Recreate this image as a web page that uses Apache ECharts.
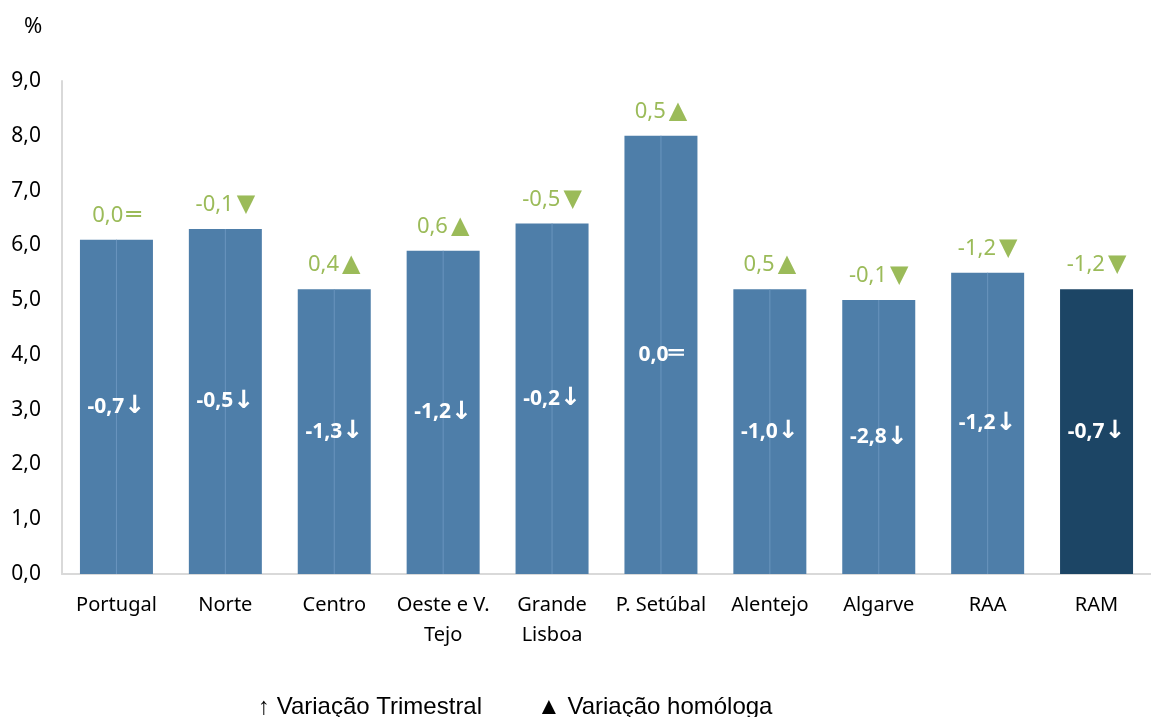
<!DOCTYPE html>
<html>
<head>
<meta charset="utf-8">
<script src="https://cdn.jsdelivr.net/npm/echarts@6/dist/echarts.min.js"></script>
<style>
  html, body { margin: 0; padding: 0; background: #fff; }
  #chart { width: 1151px; height: 717px; }
</style>
</head>
<body>
<div id="chart"></div>
<script>
// categorias (regiões)
var categories = ['Portugal', 'Norte', 'Centro', 'Oeste e V.\nTejo', 'Grande\nLisboa',
    'P. Setúbal', 'Alentejo', 'Algarve', 'RAA', 'RAM'];
// taxa (%)
var values = [6.1, 6.3, 5.2, 5.9, 6.4, 8.0, 5.2, 5.0, 5.5, 5.2];
// variação trimestral (p.p.)
var varTrimestral = [-0.7, -0.5, -1.3, -1.2, -0.2, 0.0, -1.0, -2.8, -1.2, -0.7];
// variação homóloga (p.p.)
var varHomologa = [0.0, -0.1, 0.4, 0.6, -0.5, 0.5, 0.5, -0.1, -1.2, -1.2];
var yTicks = [0, 1, 2, 3, 4, 5, 6, 7, 8, 9];

var FONT = 'Noto Sans';
var SYM_FONT = 'DejaVu Sans';
var BAR = '#4E7EA9';
var BAR_DARK = '#1C4565';
var GREEN = '#9BBB59';

function fmt(v) {
    return v.toFixed(1).replace('.', ',');
}

var chart = echarts.init(document.getElementById('chart'));

var barData = values.map(function (v, i) {
    return {
        value: v,
        itemStyle: { color: i === values.length - 1 ? BAR_DARK : BAR }
    };
});

var option = {
    animation: false,
    textStyle: { fontFamily: FONT },
    grid: { left: 62, top: 81, width: 1102, height: 493 },
    xAxis: {
        type: 'category',
        data: categories,
        axisTick: { show: false },
        axisLine: { lineStyle: { color: '#D9D9D9', width: 2 } },
        axisLabel: {
            color: '#000', fontSize: 20, fontFamily: FONT,
            margin: 16, lineHeight: 30, interval: 0
        }
    },
    yAxis: {
        type: 'value',
        min: yTicks[0], max: yTicks[yTicks.length - 1], interval: 1,
        splitLine: { show: false },
        axisTick: { show: false },
        axisLine: { show: true, lineStyle: { color: '#D9D9D9', width: 2 } },
        axisLabel: {
            color: '#000', fontSize: 21, fontFamily: FONT, margin: 21,
            formatter: function (v) { return fmt(v); }
        }
    },
    graphic: [
        { type: 'text', left: 24, top: 16, style: { text: '%', fontSize: 22, fontFamily: FONT, fill: '#000' } },
        { type: 'text', left: 258, top: 695, style: { text: '\u2191 Variação Trimestral', fontSize: 24, fontFamily: 'Liberation Sans', fill: '#000' } },
        { type: 'text', left: 537, top: 695, style: { text: '\u25B2 Variação homóloga', fontSize: 24, fontFamily: 'Liberation Sans', fill: '#000' } }
    ],
    series: [
        {
            name: 'Taxa',
            type: 'bar',
            data: barData,
            barWidth: 73,
            z: 2,
            label: {
                show: true,
                position: 'top',
                distance: 12,
                color: GREEN,
                fontSize: 22,
                fontFamily: FONT,
                formatter: function (p) {
                    var h = varHomologa[p.dataIndex];
                    var s = h > 0 ? '\u25B2' : (h < 0 ? '\u25BC' : '\u2550');
                    return fmt(h) + '{s|' + s + '}';
                },
                rich: {
                    s: { fontSize: 24, fontFamily: SYM_FONT, color: GREEN, padding: [0, 0, 0, 3] }
                }
            }
        },
        {
            // linha clara ao centro de cada barra
            name: 'Centro',
            type: 'pictorialBar',
            data: values.map(function (v, i) { return i === values.length - 1 ? 0 : v; }),
            symbol: 'rect',
            symbolSize: [1, '100%'],
            symbolPosition: 'start',
            itemStyle: { color: '#6A95BE' },
            z: 3,
            silent: true
        },
        {
            name: 'Trimestral',
            type: 'bar',
            data: values,
            barWidth: 73,
            barGap: '-100%',
            itemStyle: { color: 'transparent' },
            z: 4,
            label: {
                show: true,
                position: 'inside',
                color: '#fff',
                fontWeight: 'bold',
                fontSize: 21,
                fontFamily: FONT,
                formatter: function (p) {
                    var t = varTrimestral[p.dataIndex];
                    var s = t > 0 ? '\u2191' : (t < 0 ? '\u2193' : '\u2550');
                    return fmt(t) + '{s|' + s + '}';
                },
                rich: {
                    s: { fontSize: 25, fontFamily: SYM_FONT, color: '#fff', fontWeight: 'bold' }
                }
            }
        }
    ]
};

chart.setOption(option);
</script>
</body>
</html>
